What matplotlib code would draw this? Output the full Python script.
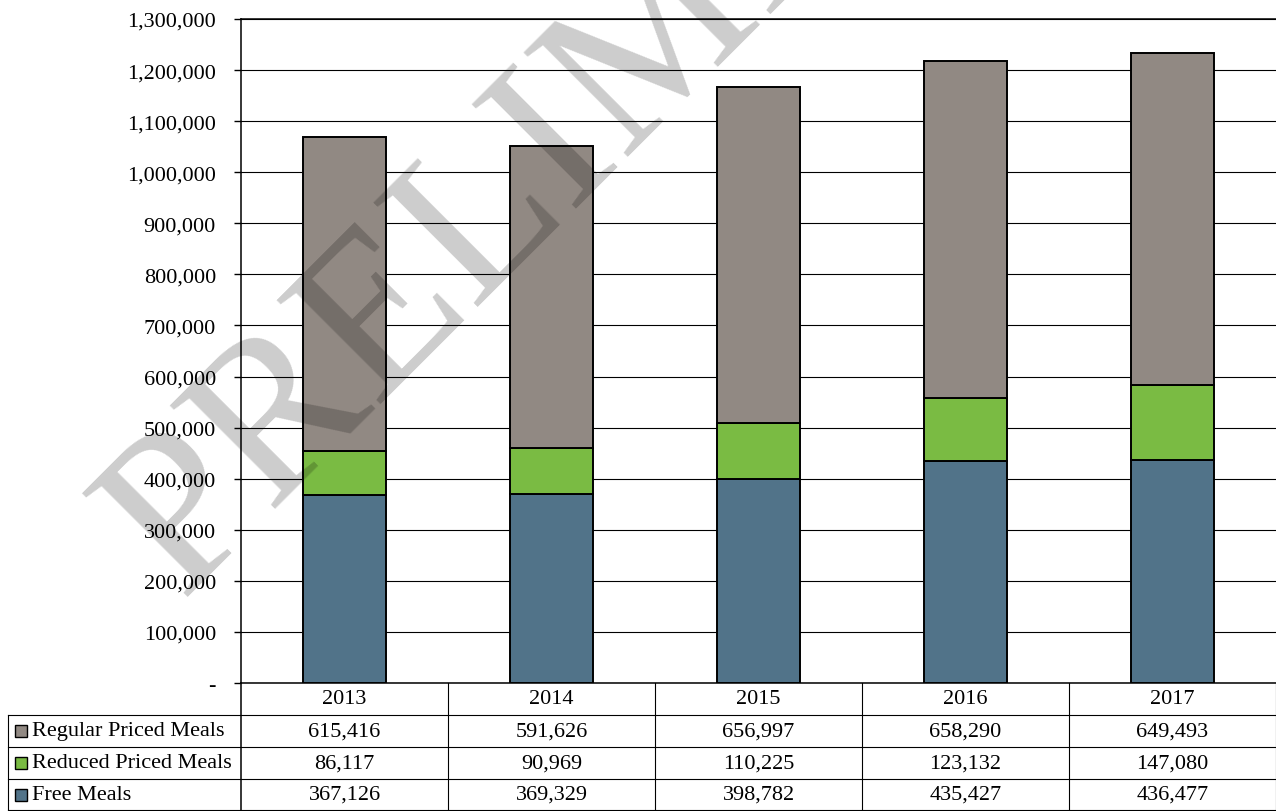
import matplotlib
matplotlib.use("Agg")
import matplotlib.pyplot as plt
from matplotlib.patches import Rectangle
from matplotlib.lines import Line2D
from matplotlib.ticker import FuncFormatter
from matplotlib.transforms import blended_transform_factory

plt.rcParams["font.family"] = ["Liberation Serif", "DejaVu Serif"]

# ---- data -------------------------------------------------------------
years = ["2013", "2014", "2015", "2016", "2017"]
free_meals = [367126, 369329, 398782, 435427, 436477]
reduced_meals = [86117, 90969, 110225, 123132, 147080]
regular_meals = [615416, 591626, 656997, 658290, 649493]

series_names = ["Regular Priced Meals", "Reduced Priced Meals", "Free Meals"]
y_ticks = list(range(0, 1300001, 100000))

# ---- styling ----------------------------------------------------------
COL_REGULAR = "#918983"
COL_REDUCED = "#7abb43"
COL_FREE = "#517389"
FS = 16

W, H = 1276, 812
fig = plt.figure(figsize=(W / 100, H / 100), dpi=100)


def fx(px):
    return px / W


def fy(py):
    return 1 - py / H


ax = fig.add_axes([fx(241), fy(684), fx(1276) - fx(241), fy(20) - fy(684)])

x = list(range(len(years)))
bar_w = 0.4
edge = dict(edgecolor="black", linewidth=1.4)
ax.bar(x, free_meals, bar_w, color=COL_FREE, zorder=3, **edge)
ax.bar(x, reduced_meals, bar_w, bottom=free_meals, color=COL_REDUCED, zorder=3, **edge)
stack2 = [a + b for a, b in zip(free_meals, reduced_meals)]
ax.bar(x, regular_meals, bar_w, bottom=stack2, color=COL_REGULAR, zorder=3, **edge)

ax.set_xlim(-0.5, len(years) - 0.5)
ax.set_ylim(0, 1300000)
ax.set_yticks(y_ticks)
ax.yaxis.set_major_formatter(FuncFormatter(lambda v, p: "-" if v == 0 else f"{v:,.0f}"))
ax.set_xticks([])
ax.tick_params(axis="y", direction="out", length=5, width=1, pad=13, labelsize=FS)
ax.grid(axis="y", color="black", linewidth=0.8, zorder=0)
ax.set_axisbelow(True)
ax.spines["right"].set_visible(False)
for side in ("left", "bottom", "top"):
    ax.spines[side].set_linewidth(1.1)

# ---- data table below the plot -----------------------------------------
tcol = blended_transform_factory(ax.transData, fig.transFigure)
row_edges = [684, 716, 748, 780, 811]
lw_t = 0.8

# vertical separators between year columns
for k in range(len(years) + 1):
    fig.add_artist(Line2D([k - 0.5, k - 0.5], [fy(684), fy(812)], transform=tcol,
                          color="black", linewidth=lw_t if k else 1.1))
# horizontal row separators
for py in row_edges[1:]:
    fig.add_artist(Line2D([fx(8), 1.0], [fy(py), fy(py)], transform=fig.transFigure,
                          color="black", linewidth=lw_t))
# left border of the row-label column
fig.add_artist(Line2D([fx(8), fx(8)], [fy(716), fy(811)], transform=fig.transFigure,
                      color="black", linewidth=lw_t))

# column headers
for i, yr in enumerate(years):
    fig.text(i, fy(700), yr, transform=tcol, ha="center", va="center", fontsize=FS)

rows = [regular_meals, reduced_meals, free_meals]
row_colors = [COL_REGULAR, COL_REDUCED, COL_FREE]
for r, (name, vals, col) in enumerate(zip(series_names, rows, row_colors)):
    yc = (row_edges[r + 1] + row_edges[r + 2]) / 2
    fig.add_artist(Rectangle((fx(15), fy(yc + 6)), fx(12), 12 / H, transform=fig.transFigure,
                             facecolor=col, edgecolor="black", linewidth=1.0))
    fig.text(fx(32), fy(yc), name, ha="left", va="center", fontsize=FS)
    for i, v in enumerate(vals):
        fig.text(i, fy(yc), f"{v:,}", transform=tcol, ha="center", va="center", fontsize=FS)

# ---- watermark ----------------------------------------------------------
fig.text(fx(180), fy(598), "PRELIMINARY", rotation=45, rotation_mode="anchor",
         ha="left", va="baseline", fontsize=162, family="Liberation Serif",
         color="black", alpha=0.2, zorder=10)

fig.savefig("out.png", dpi=100)
